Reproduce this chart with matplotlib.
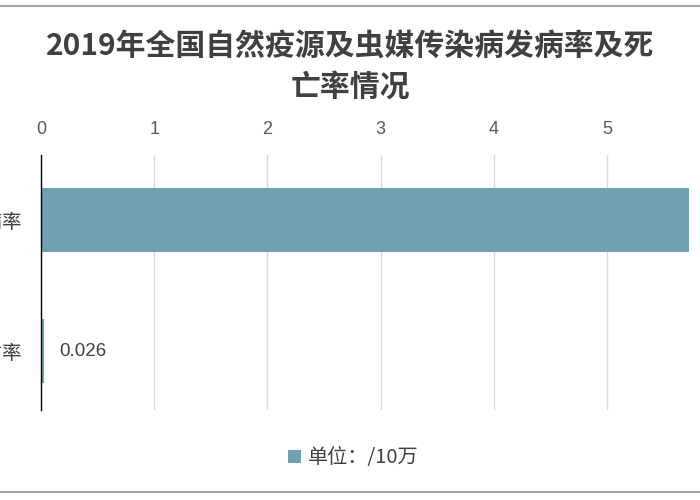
import matplotlib
matplotlib.use("Agg")
import matplotlib.pyplot as plt
from matplotlib.patches import Patch
from matplotlib.lines import Line2D

plt.rcParams['font.family'] = ['Noto Sans CJK SC', 'DejaVu Sans']
num_font = ['Liberation Sans', 'Noto Sans CJK SC']

title = "2019年全国自然疫源及虫媒传染病发病率及死\n亡率情况"
categories = ["死亡率", "发病率"]   # bottom to top
values = [0.026, 5.72]
value_labels = ["0.026", ""]
ticks = [0, 1, 2, 3, 4, 5]
legend_label = "单位：/10万"

bar_color = "#73A1B4"
text_color = "#595959"

fig = plt.figure(figsize=(7, 5), dpi=100)
ax = fig.add_axes([41/700, 1-410/500, 1-41/700, 255/500])

ypos = list(range(len(categories)))
ax.barh(ypos, values, height=0.49, color=bar_color, zorder=3)
ax.set_ylim(-0.45, 1.5)
ax.set_xlim(0, (700-41)/113.2)
ax.set_xticks(ticks)
ax.set_xticklabels([str(t) for t in ticks], family=num_font)
ax.xaxis.tick_top()
ax.tick_params(axis='x', length=0, pad=12, labelsize=13, labelcolor=text_color)
ax.set_yticks(ypos)
ax.set_yticklabels(categories)
ax.tick_params(axis='y', length=0, pad=14, labelsize=14, labelcolor="#404040")
ax.grid(axis='x', color="#D9D9D9", linewidth=1, zorder=0)
for s in ['top', 'right', 'bottom']:
    ax.spines[s].set_visible(False)
ax.spines['left'].set_color('#000000')
ax.spines['left'].set_linewidth(1)
ax.spines['left'].set_zorder(4)

for y, v, lab in zip(ypos, values, value_labels):
    if lab:
        ax.annotate(lab, (v, y), xytext=(11, 0), textcoords='offset points',
                    va='center', ha='left', fontsize=13.5, color="#404040",
                    family=num_font)

fig.text(0.5, 1-66/500, title, ha='center', va='center', fontsize=21.5,
         fontweight='bold', color="#404040", linespacing=1.45)

handles = [Patch(facecolor=bar_color, edgecolor='none')]
fig.legend(handles, [legend_label], loc='center', bbox_to_anchor=(353/700, 1-458/500),
           frameon=False, fontsize=14.5, handlelength=0.65, handleheight=0.65,
           handletextpad=0.35, labelcolor="#404040")

# frame lines top and bottom
fig.add_artist(Line2D([0, 1], [1-6/500, 1-6/500], transform=fig.transFigure,
                      color="#A6A6A6", linewidth=1.5))
fig.add_artist(Line2D([0, 1], [1-492/500, 1-492/500], transform=fig.transFigure,
                      color="#A6A6A6", linewidth=1.5))

fig.savefig("out.png", dpi=100)
